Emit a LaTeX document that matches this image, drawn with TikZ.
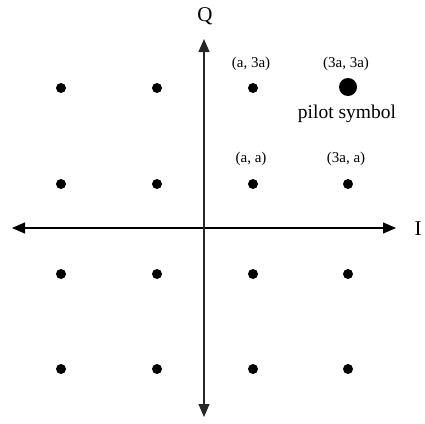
\documentclass[tikz,border=0pt]{standalone}
\usepackage{fontspec}
\setmainfont{Liberation Serif}
\usetikzlibrary{arrows.meta}
\begin{document}
\begin{tikzpicture}[x=1pt,y=-1pt,
  pt/.style={circle,fill=black,inner sep=0pt,minimum size=10pt},
  bigpt/.style={circle,fill=black,inner sep=0pt,minimum size=18pt},
  coordlab/.style={font=\fontsize{15}{17}\selectfont,inner sep=0pt},
  pilotlab/.style={font=\fontsize{19.5}{22}\selectfont,inner sep=0pt},
  axislab/.style={font=\fontsize{21}{24}\selectfont,inner sep=0pt},
  axisline/.style={line width=1.2pt,{Triangle[length=13pt,width=11pt]}-{Triangle[length=13pt,width=11pt]}}]
\useasboundingbox (0,0) rectangle (425,423);
% axes
\coordinate (L) at (12,228);
\coordinate (R) at (396,228);
\coordinate (T) at (204,39);
\coordinate (B) at (204,417);
\draw[axisline] (L) -- (R);
\draw[axisline,black!85] (B) -- (T);
\node[axislab] (Q) at (205,16) {Q};
\node[axislab] (I) at (418,229) {I};
% constellation points
\foreach \c/\x in {1/61,2/157,3/253,4/348}{
  \foreach \r/\y in {1/88,2/184,3/274,4/369}{
    \ifnum\c=4 \ifnum\r=1 \else \node[pt] (p\c\r) at (\x,\y) {}; \fi
    \else \node[pt] (p\c\r) at (\x,\y) {}; \fi
  }
}
\node[bigpt] (p41) at (348,87) {};
% labels
\node[coordlab] (l31) at (251,64) {(a, 3a)};
\node[coordlab] (l41) at (346,64) {(3a, 3a)};
\node[coordlab] (l32) at (251,159) {(a, a)};
\node[coordlab] (l42) at (346,159) {(3a, a)};
\node[pilotlab] (pilot) at (347,114) {pilot symbol};
\end{tikzpicture}
\end{document}
